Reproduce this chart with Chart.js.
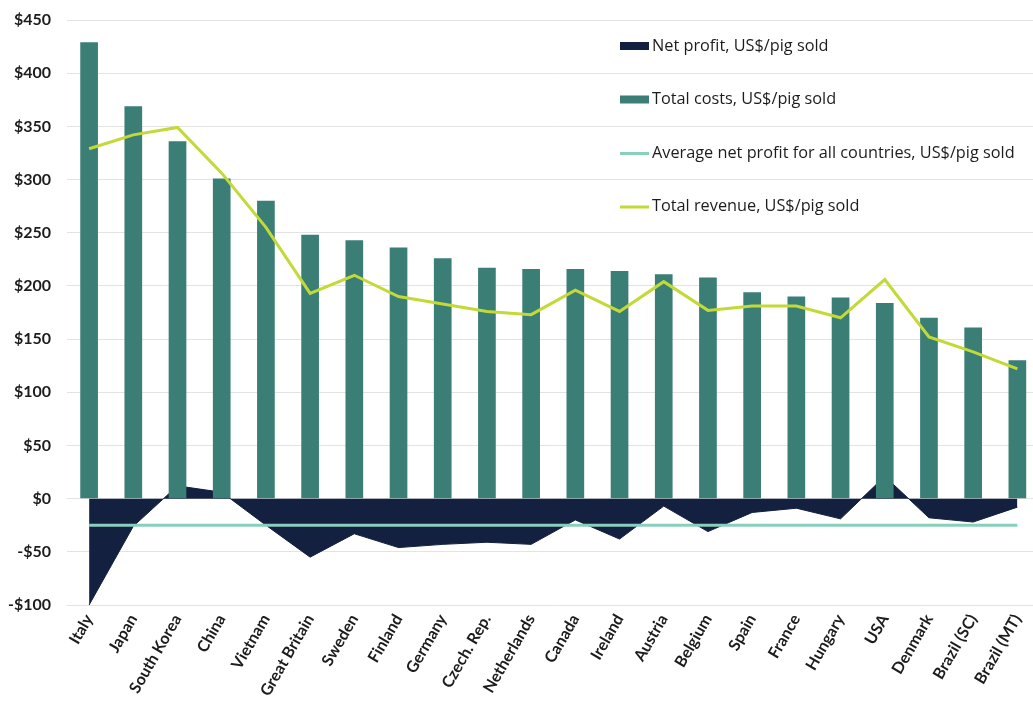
<!DOCTYPE html>
<html>
<head>
<meta charset="utf-8">
<script src="https://cdn.jsdelivr.net/npm/chart.js@4/dist/chart.umd.min.js"></script>
<style>
  html, body { margin: 0; padding: 0; background: #fff; overflow: hidden; }
  #wrap { width: 1040px; height: 711px; }
</style>
</head>
<body>
<div id="wrap"><canvas id="pigChart" width="1040" height="711"></canvas></div>
<script>
/* Pig production: costs, revenue and net profit per pig sold, by country */

const COUNTRIES = ['Italy', 'Japan', 'South Korea', 'China', 'Vietnam', 'Great Britain', 'Sweden',
  'Finland', 'Germany', 'Czech. Rep.', 'Netherlands', 'Canada', 'Ireland', 'Austria', 'Belgium',
  'Spain', 'France', 'Hungary', 'USA', 'Denmark', 'Brazil (SC)', 'Brazil (MT)'];

const NET_PROFIT = [-100, -26, 12, 6, -25, -55, -33, -46, -43, -41, -43, -20, -38, -7, -31,
  -13, -9, -19, 21, -18, -22, -8];

const TOTAL_COSTS = [429, 369, 336, 301, 280, 248, 243, 236, 226, 217, 216, 216, 214, 211, 208,
  194, 190, 189, 184, 170, 161, 130];

const TOTAL_REVENUE = [329, 342, 349, 306, 255, 193, 210, 190, 183, 176, 173, 196, 176, 204, 177,
  181, 181, 170, 206, 152, 138, 122];

const AVG_NET_PROFIT = -25;

const Y_TICKS = { min: -100, max: 450, step: 50 };

const SERIES_NAMES = ['Net profit, US$/pig sold', 'Total costs, US$/pig sold',
  'Average net profit for all countries, US$/pig sold', 'Total revenue, US$/pig sold'];

const COLORS = {
  navy: '#13203f',
  teal: '#3a7e76',
  mint: '#88d0bc',
  lime: '#c3d936',
  grid: '#e3e3e3',
  text: '#1c1c1c',
};

// legend drawn inside the plot, one row per grid band like the original
const legendInPlot = {
  id: 'legendInPlot',
  afterDraw(chart) {
    const { ctx } = chart;
    const x = 620;
    const rows = [46, 99.5, 153, 206.5];
    const kinds = ['box', 'box', 'line', 'line'];
    const cols = [COLORS.navy, COLORS.teal, COLORS.mint, COLORS.lime];
    ctx.save();
    ctx.font = '16.3px "Open Sans"';
    ctx.textBaseline = 'middle';
    SERIES_NAMES.forEach((name, i) => {
      const y = rows[i];
      ctx.fillStyle = cols[i];
      if (kinds[i] === 'box') ctx.fillRect(x, y - 4, 29, 8);
      else ctx.fillRect(x, y - 1, 29, 3);
      ctx.fillStyle = COLORS.text;
      ctx.fillText(name, x + 32, y);
    });
    ctx.restore();
  },
};

const dollar = (v) => (v < 0 ? '-$' + Math.abs(v) : '$' + v);

new Chart(document.getElementById('pigChart'), {
  data: {
    labels: COUNTRIES,
    datasets: [
      {
        type: 'line',
        label: SERIES_NAMES[0],
        data: NET_PROFIT,
        borderColor: COLORS.navy,
        backgroundColor: COLORS.navy,
        borderWidth: 1,
        fill: 'origin',
        pointRadius: 0,
        tension: 0,
        order: 4,
      },
      {
        type: 'bar',
        label: SERIES_NAMES[1],
        data: TOTAL_COSTS,
        backgroundColor: COLORS.teal,
        barPercentage: 0.4,
        categoryPercentage: 1,
        order: 3,
      },
      {
        type: 'line',
        label: SERIES_NAMES[2],
        data: COUNTRIES.map(() => AVG_NET_PROFIT),
        borderColor: COLORS.mint,
        borderWidth: 3,
        pointRadius: 0,
        fill: false,
        order: 2,
      },
      {
        type: 'line',
        label: SERIES_NAMES[3],
        data: TOTAL_REVENUE,
        borderColor: COLORS.lime,
        borderWidth: 3,
        pointRadius: 0,
        tension: 0,
        fill: false,
        order: 1,
      },
    ],
  },
  options: {
    responsive: false,
    animation: false,
    layout: { autoPadding: false, padding: { top: 20, right: 0, left: 0, bottom: 0 } },
    plugins: { legend: { display: false }, tooltip: { enabled: false } },
    scales: {
      x: {
        grid: { display: false, drawTicks: false },
        border: { display: false },
        ticks: {
          color: COLORS.text,
          font: { family: 'Lato', size: 16, weight: 'bold' },
          minRotation: 60,
          maxRotation: 60,
          autoSkip: false,
          padding: 6,
        },
        afterFit(scale) { scale.height = 106; },
      },
      y: {
        min: Y_TICKS.min,
        max: Y_TICKS.max,
        grid: { color: COLORS.grid, drawTicks: false },
        border: { display: false },
        ticks: {
          stepSize: Y_TICKS.step,
          color: COLORS.text,
          font: { family: 'Lato', size: 16, weight: 'bold' },
          padding: 16,
          callback: dollar,
        },
        afterFit(scale) {
          scale.width = 67;
          scale.paddingTop = 0;
          scale.paddingBottom = 0;
        },
      },
    },
  },
  plugins: [legendInPlot],
});
</script>
</body>
</html>
